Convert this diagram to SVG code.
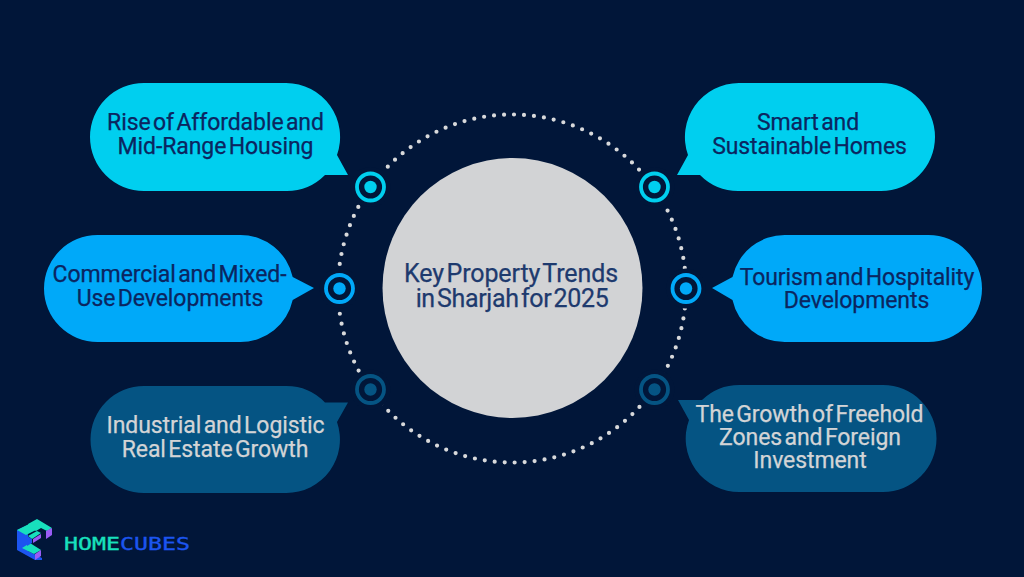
<svg xmlns="http://www.w3.org/2000/svg" width="1024" height="577" viewBox="0 0 1024 577">
<style>
.t{font-family:Roboto,"Liberation Sans",sans-serif;font-size:23px;text-anchor:middle;word-spacing:-3.2px;letter-spacing:-.08px;stroke-width:.25}
.d{fill:#0b2560;stroke:#0b2560}.l{fill:#d3d4d6;stroke:#d3d4d6}
.k{fill:#1e3a6e;stroke:#1e3a6e;font-size:25px;word-spacing:-3.6px;letter-spacing:-.1px}
.c1{fill:#00cfef}.c2{fill:#00a9f9}.c3{fill:#055483}
.bg{fill:#011639}
.r{stroke-width:3.8;fill:#011639}
.teal{fill:#18e0bd;stroke:#18e0bd}.blue{fill:#1c55f0;stroke:#1c55f0}.pur{fill:#9a5cf5}
.f{stroke:none}
.wm{stroke-width:.35}
</style>
<rect width="1024" height="577" class="bg"/>
<g id="connectors">
<circle cx="512" cy="288.5" r="174" fill="none" stroke="#d8d9db" stroke-width="4.2" stroke-linecap="round" stroke-dasharray="0 10.02"/>
</g>
<g id="center"><circle cx="512.5" cy="288" r="130" fill="#d2d3d5"/>
<text class="t k"><tspan x="511" y="282">Key Property Trends</tspan><tspan x="512" y="307" letter-spacing="-.35">in Sharjah for 2025</tspan></text></g>
<g id="ring-tl"><circle cx="370.500" cy="187" r="20" class="bg"/><circle cx="370.500" cy="187" r="13.500" class="r" stroke="#00cfef"/><circle cx="370.500" cy="187" r="6.200" class="c1"/></g>
<g id="ring-ml"><circle cx="339.500" cy="288.500" r="20" class="bg"/><circle cx="339.500" cy="288.500" r="13.500" class="r" stroke="#00a9f9"/><circle cx="339.500" cy="288.500" r="6.200" class="c2"/></g>
<g id="ring-bl"><circle cx="370.500" cy="389.500" r="20" class="bg"/><circle cx="370.500" cy="389.500" r="13.500" class="r" stroke="#055483"/><circle cx="370.500" cy="389.500" r="6.200" class="c3"/></g>
<g id="ring-tr"><circle cx="654.500" cy="187" r="20" class="bg"/><circle cx="654.500" cy="187" r="13.500" class="r" stroke="#00cfef"/><circle cx="654.500" cy="187" r="6.200" class="c1"/></g>
<g id="ring-mr"><circle cx="686" cy="288.500" r="20" class="bg"/><circle cx="686" cy="288.500" r="13.500" class="r" stroke="#00a9f9"/><circle cx="686" cy="288.500" r="6.200" class="c2"/></g>
<g id="ring-br"><circle cx="654.500" cy="389.500" r="20" class="bg"/><circle cx="654.500" cy="389.500" r="13.500" class="r" stroke="#055483"/><circle cx="654.500" cy="389.500" r="6.200" class="c3"/></g>
<g id="node-tl"><path class="c1" d="M144 83H286A54 54 0 0 1 337 155L348 175L325 175A54 54 0 0 1 286 191H144A54 54 0 0 1 144 83Z"/>
<text class="t d"><tspan x="215.500" y="129.500">Rise of Affordable and</tspan><tspan x="215.500" y="153.500">Mid-Range Housing</tspan></text></g>
<g id="node-tr"><path class="c1" d="M739 83H881A54 54 0 0 1 881 191H739A54 54 0 0 1 700 175L677 175L688 155A54 54 0 0 1 739 83Z"/>
<text class="t d"><tspan x="808" y="129.500">Smart and</tspan><tspan x="809.500" y="153.500">Sustainable Homes</tspan></text></g>
<g id="node-ml"><path class="c2" d="M97.500 235H240.500A53.500 53.500 0 0 1 292.700 277L314 288L292.700 300A53.500 53.500 0 0 1 240.500 342H97.500A53.500 53.500 0 0 1 97.500 235Z"/>
<text class="t d"><tspan x="169.500" y="281.500">Commercial and Mixed-</tspan><tspan x="170" y="305.500">Use Developments</tspan></text></g>
<g id="node-mr"><path class="c2" d="M785.500 235H928.500A53.500 53.500 0 0 1 928.500 342H785.500A53.500 53.500 0 0 1 732.500 300L712 288L732.500 277A53.500 53.500 0 0 1 785.500 235Z"/>
<text class="t d"><tspan x="857" y="285">Tourism and Hospitality</tspan><tspan x="856.500" y="308">Developments</tspan></text></g>
<g id="node-bl"><path class="c3" d="M144 386H286A53.500 53.500 0 0 1 325 402.500L348 402.500L337 422A53.500 53.500 0 0 1 286 493H144A53.500 53.500 0 0 1 144 386Z"/>
<text class="t l"><tspan x="215.500" y="432.500">Industrial and Logistic</tspan><tspan x="215" y="456.500">Real Estate Growth</tspan></text></g>
<g id="node-br"><path class="c3" d="M740 385H883A53.500 53.500 0 0 1 883 492H740A53.500 53.500 0 0 1 689 420L678 400L702 400A54 54 0 0 1 740 385Z"/>
<text class="t l"><tspan x="809.500" y="421.500">The Growth of Freehold</tspan><tspan x="810" y="444.500">Zones and Foreign</tspan><tspan x="810" y="468">Investment</tspan></text></g>
<g id="logo">
<polygon class="blue f" points="17,530 28,525 28,551 42,558 42,560 35,560 17,550"/>
<polygon class="teal f" points="17,530 29,524 38,529 26,535"/>
<polygon class="teal f" points="28,524 37,519 52,528 47,531 41,528 36,531 29,527"/>
<polygon class="teal f" points="28,536 37,531 41,533 32,539"/>
<polygon class="teal f" points="22,548 30,543 41,550 34,554"/>
<polygon class="blue f" points="27,536 32,539 32,543 27,546"/>
<polygon class="pur" points="46,531 52,528 52,535 46,539"/>
<polygon class="pur" points="35,554 41,550 41,556 35,560"/>
<polygon class="pur" points="33,539 41,534 41,538 33,543"/>
</g>
<text id="wordmark" x="64" y="549.500" font-family="'DejaVu Sans Mono',monospace" font-size="17.500" textLength="126" lengthAdjust="spacingAndGlyphs"><tspan class="teal wm">HOME</tspan><tspan class="blue wm">CUBES</tspan></text>
</svg>
